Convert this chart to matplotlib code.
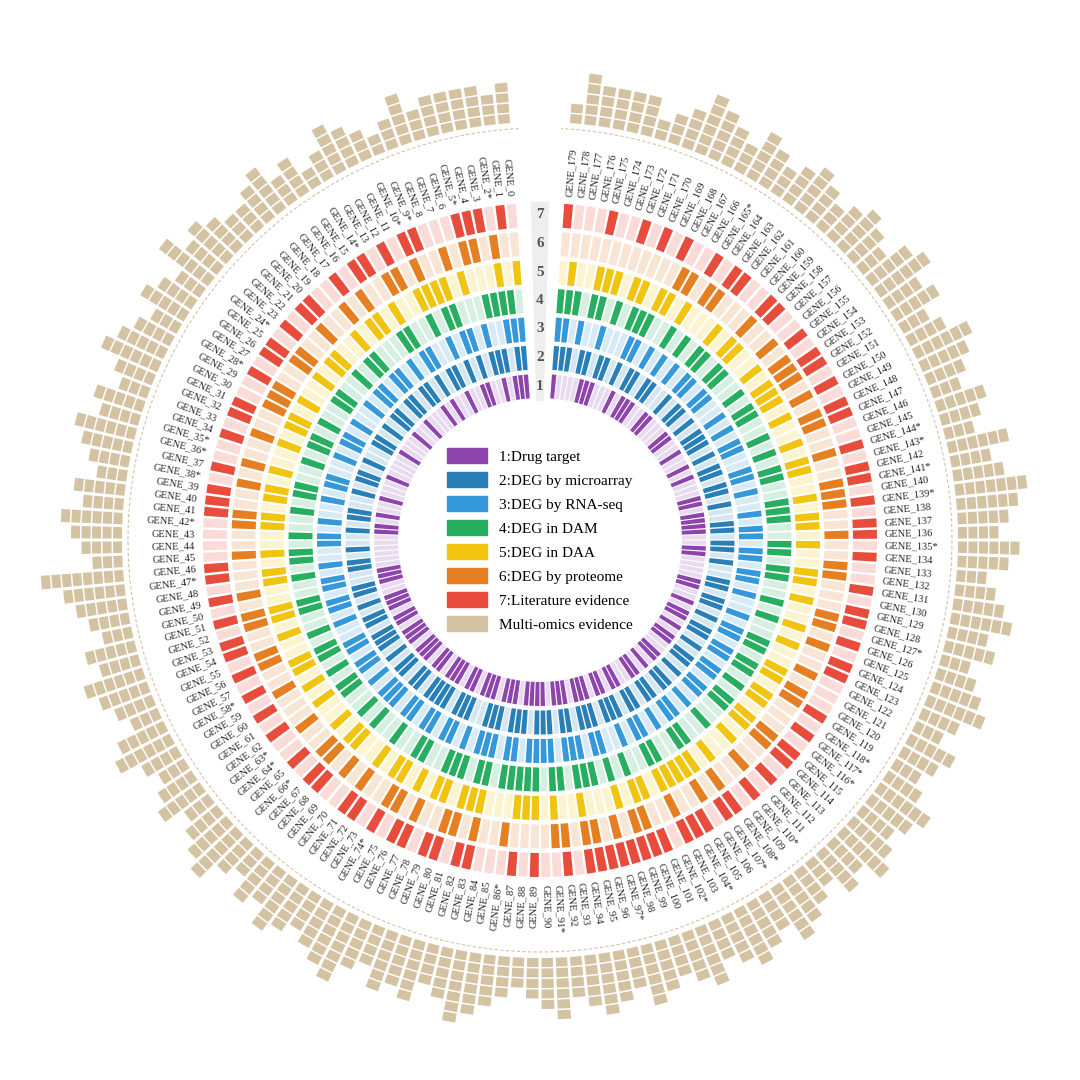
import numpy as np
import matplotlib
matplotlib.use("Agg")
import matplotlib.pyplot as plt
from matplotlib.patches import Patch

N = 180
genes = [f"GENE_{i}" for i in range(N)]
starred = [2,5,9,10,14,24,28,35,36,38,42,47,58,63,64,66,74,86,91,97,102,104,107,108,110,
           116,117,118,127,135,139,141,143,144,165]

ring_strings = [
 "1110100110010010100010010001000010001001011000000111001110110111011101101110110111011101111011101110110110011010110011010110100110000110011110110001010010011000110011101000111000011",
 "110111010101101011011011010110010110100110100101100110101101110101101101111011100111011101110110111011101101101101011010110101101100101101100101101101011101011010011011010110110111111",
 "111001011010011010110110100101101001101001011001011011010011011010111011011011010111011011110111011001011010110101101101101101001011011011010010110011010100110110101010110001001011011",
 "011110001101001100011010011001011010011010010110100110010110101100101001001100111011011111011011101010011001100100110101101100101001101100111001101010011010011011010100111010110111",
 "101000101111001011010011010010110100101101100101100110100110101001011001011010110111000111010010001011011111010010110110110010100101100101101001101001011101001101000101101101110010110101101101",
 "001011010010110010100100110011100100101001100100010110011001000100110101001101001101001000011011010110010010100100110001101001011000110010011100100110101110100100011011000",
 "010111000110101101001101011010011010010111000011010101101010101001011001101011011011000101001011111111011101101010110101000110101101001011010110100110101101001100110100101010010001100101",
]
# normalise each ring string to N genes (hand-estimated values)
rings = [[int(c) for c in s[:N].ljust(N, "0")] for s in ring_strings]

outer_counts = [4,3,4,4,4,4,3,5,3,2,3,4,5,3,2,4,3,5,4,3,
                3,4,5,4,6,3,4,5,3,4,5,6,4,3,5,4,6,5,4,3,
                5,4,6,5,4,3,8,6,5,4,3,5,4,6,5,4,3,5,6,4,
                3,4,5,3,4,5,6,4,3,5,4,6,5,4,5,6,7,5,4,6,
                5,6,4,5,7,6,5,4,3,4,5,6,4,5,6,5,4,6,5,4,
                5,6,4,5,6,5,4,6,5,4,3,5,4,6,5,4,5,6,4,3,
                4,5,3,4,6,5,4,3,5,4,6,5,4,3,5,6,4,5,6,7,
                5,4,6,3,4,5,3,4,5,6,4,3,5,4,6,5,3,4,5,4,
                3,4,5,4,3,4,5,3,4,5,6,4,3,2,4,4,4,4,5,2]

ring_names = ["1:Drug target","2:DEG by microarray","3:DEG by RNA-seq","4:DEG in DAM",
              "5:DEG in DAA","6:DEG by proteome","7:Literature evidence"]
colors = ["#8e44ad","#2980b9","#3498db","#27ae60","#f1c40f","#e67e22","#e74c3c"]
lights = ["#e8daef","#d4e6f1","#d6eaf8","#d5f0e1","#fcf3cf","#f8e5d4","#fadbd8"]
tan = "#d4c3a3"

fig = plt.figure(figsize=(10.8,10.8), dpi=100)
ax = fig.add_axes([0,0,1,1], projection="polar")
ax.set_theta_offset(np.pi/2)
ax.set_theta_direction(1)
ax.set_ylim(0,540)
ax.axis("off")

slots = N + 4
w = 2*np.pi/slots
theta = (np.arange(N) + 2.5) * w

r0, rw, rstep = 142, 24, 28.5
for k in range(7):
    cols = [colors[k] if v else lights[k] for v in rings[k]]
    ax.bar(theta, rw, width=w*0.78, bottom=r0 + k*rstep, color=cols, linewidth=0)

# ring number strip in gap
ax.bar(0, 7*rstep, width=w*1.6, bottom=r0-3, color="#eeeeee", linewidth=0)
for k in range(7):
    ax.text(0, r0 + k*rstep + rw/2, str(k+1), ha="center", va="center",
            fontsize=11, fontweight="bold", color="#555555", family="Liberation Serif")

# labels
for i in range(N):
    t = theta[i]
    ang = np.degrees(t) + 90
    lab = genes[i] + ("*" if i in starred else "")
    if 90 < ang % 360 < 270:
        rot, ha = ang - 180, "right"
    else:
        rot, ha = ang, "left"
    ax.text(t, 345, lab, rotation=rot, rotation_mode="anchor", ha=ha, va="center",
            fontsize=7.5, family="Liberation Serif", color="#222222")

# dashed circle
tt = np.linspace(w*1.5, 2*np.pi - w*1.5, 400)
ax.plot(tt, np.full_like(tt, 412), ls=(0,(3,2)), color=tan, lw=0.8)

# outer stacked blocks
for i in range(N):
    for j in range(outer_counts[i]):
        ax.bar(theta[i], 9, width=w*0.8, bottom=418 + j*10.5, color=tan, linewidth=0)

handles = [Patch(color=c, label=l) for c, l in zip(colors, ring_names)] + [Patch(color=tan, label="Multi-omics evidence")]
fig.legend(handles=handles, loc="center", bbox_to_anchor=(0.5, 0.5), frameon=False,
           prop={"family": "Liberation Serif", "size": 11}, handlelength=2.6, handleheight=1.1,
           labelspacing=0.55)

fig.savefig("out.png", dpi=100)
